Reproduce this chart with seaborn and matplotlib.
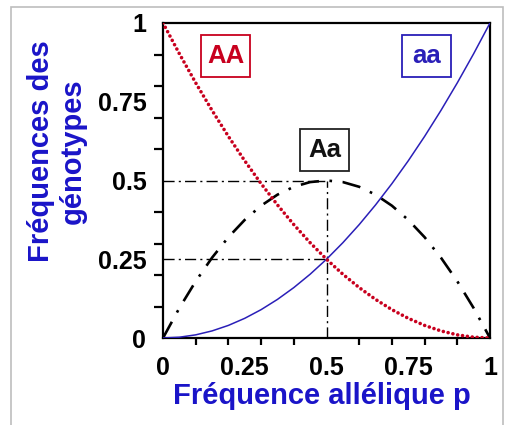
import matplotlib
matplotlib.use("Agg")
import matplotlib.pyplot as plt
from matplotlib.patches import Rectangle
from matplotlib.ticker import FixedLocator
import pandas as pd
import seaborn as sns

# Allele frequency p and the Hardy-Weinberg genotype frequencies
p_values = [0.0, 0.05, 0.10, 0.15, 0.20, 0.25, 0.30, 0.35, 0.40, 0.45, 0.50,
            0.55, 0.60, 0.65, 0.70, 0.75, 0.80, 0.85, 0.90, 0.95, 1.0]
freq_AA = [1.0, 0.9025, 0.81, 0.7225, 0.64, 0.5625, 0.49, 0.4225, 0.36, 0.3025, 0.25,
           0.2025, 0.16, 0.1225, 0.09, 0.0625, 0.04, 0.0225, 0.01, 0.0025, 0.0]
freq_Aa = [0.0, 0.095, 0.18, 0.255, 0.32, 0.375, 0.42, 0.455, 0.48, 0.495, 0.5,
           0.495, 0.48, 0.455, 0.42, 0.375, 0.32, 0.255, 0.18, 0.095, 0.0]
freq_aa = [0.0, 0.0025, 0.01, 0.0225, 0.04, 0.0625, 0.09, 0.1225, 0.16, 0.2025, 0.25,
           0.3025, 0.36, 0.4225, 0.49, 0.5625, 0.64, 0.7225, 0.81, 0.9025, 1.0]

# Guide lines at p = 0.5
guide_p = 0.5
guide_levels = [0.5, 0.25]

tick_labels = ["0", "0.25", "0.5", "0.75", "1"]
tick_values = [0.0, 0.25, 0.5, 0.75, 1.0]

df = pd.DataFrame({"p": p_values, "AA": freq_AA, "Aa": freq_Aa, "aa": freq_aa})

sns.set_theme(style="white")
plt.rcParams["font.family"] = ["Liberation Sans", "DejaVu Sans"]
plt.rcParams["font.weight"] = "bold"

RED = "#c8001e"
BLUE = "#2a1fb8"
LABEL_BLUE = "#1a14c8"

fig = plt.figure(figsize=(5.12, 4.25), dpi=100)
fig.patch.set_facecolor("white")
# light frame around the whole figure
fig.patches.append(Rectangle((11 / 512, -0.05), (503 - 11) / 512, 1.05 - 7 / 425,
                             transform=fig.transFigure, fill=False,
                             edgecolor="#bdbdbd", linewidth=1.2, zorder=0))

ax = fig.add_axes([163 / 512, (425 - 338) / 425, 327 / 512, 315 / 425])

# guide lines
guide_dash = (8, 3, 1.5, 3)
ax.plot([0, guide_p], [guide_levels[0]] * 2, color="black", lw=1.0,
        dashes=guide_dash, zorder=2)
ax.plot([0, guide_p], [guide_levels[1]] * 2, color="black", lw=1.0,
        dashes=guide_dash, zorder=2)
ax.plot([guide_p, guide_p], [0, guide_levels[0]], color="black", lw=1.0,
        dashes=guide_dash, zorder=2)

sns.lineplot(data=df, x="p", y="Aa", ax=ax, color="black", lw=1.9,
             zorder=3).lines[-1].set_dashes((7, 4, 1, 4))
sns.lineplot(data=df, x="p", y="aa", ax=ax, color=BLUE, lw=1.1, zorder=4)
line_AA = sns.lineplot(data=df, x="p", y="AA", ax=ax, color=RED, lw=2.6, zorder=5).lines[-1]
line_AA.set_dashes((0.01, 1.35))
line_AA.set_dash_capstyle("round")

ax.set_xlim(0, 1)
ax.set_ylim(0, 1)

# genotype boxes
boxes = [
    ("AA", (0.116, 0.829), RED, RED),
    ("aa", (0.731, 0.829), BLUE, BLUE),
    ("Aa", (0.419, 0.530), "#111111", "#222222"),
]
for label, (bx, by), tcolor, ecolor in boxes:
    w, h = 0.151, 0.133
    ax.add_patch(Rectangle((bx, by), w, h, transform=ax.transAxes, fill=True,
                           facecolor="white", edgecolor=ecolor, lw=1.3, zorder=6))
    ax.text(bx + w / 2, by + h / 2, label, transform=ax.transAxes,
            ha="center", va="center", fontsize=18.5, fontweight="bold",
            color=tcolor, zorder=7)

# ticks: unlabeled marks every 0.1, labels every 0.25
minor = [i / 10 for i in range(11)]
ax.xaxis.set_minor_locator(FixedLocator(minor))
ax.yaxis.set_minor_locator(FixedLocator(minor))
ax.set_xticks(tick_values)
ax.set_xticklabels(tick_labels)
ax.set_yticks(tick_values)
ax.set_yticklabels(tick_labels)
ax.tick_params(axis="both", which="major", length=0, labelsize=18, colors="black")
ax.tick_params(axis="y", which="major", pad=12)
ax.tick_params(axis="x", which="major", pad=13)
ax.tick_params(axis="y", which="minor", length=6.5, width=1.6, direction="out",
               left=True, color="black")
ax.tick_params(axis="x", which="minor", length=5, width=1.6, direction="out",
               bottom=True, color="black")
for lab in ax.get_xticklabels() + ax.get_yticklabels():
    lab.set_fontweight("bold")

for spine in ax.spines.values():
    spine.set_visible(True)
    spine.set_color("black")
    spine.set_linewidth(1.6)

ax.set_xlabel("Fréquence allélique p", fontsize=21, fontweight="bold",
              color=LABEL_BLUE)
ax.xaxis.set_label_coords(0.487, -0.140)
ax.set_ylabel("Fréquences des\ngénotypes", fontsize=21, fontweight="bold",
              color=LABEL_BLUE, linespacing=1.2)
ax.yaxis.set_label_coords(-0.232, 0.594)

fig.savefig("out.png", dpi=100, facecolor="white")
